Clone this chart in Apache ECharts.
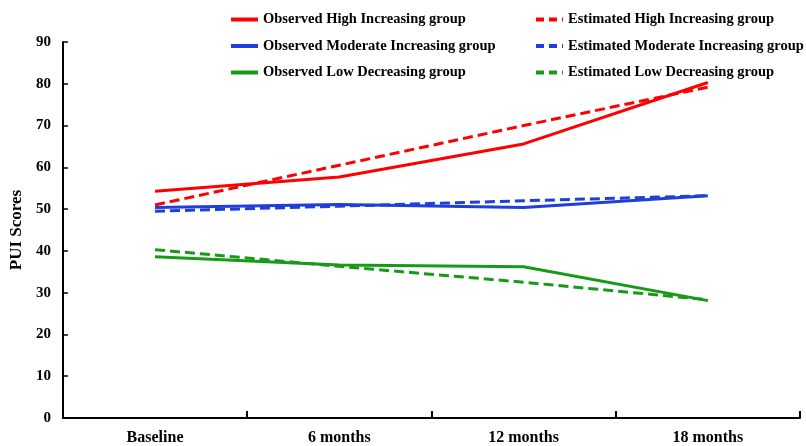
<!DOCTYPE html>
<html>
<head>
<meta charset="utf-8">
<script src="https://cdn.jsdelivr.net/npm/echarts@6/dist/echarts.min.js"></script>
<style>
  html, body { margin: 0; padding: 0; background: #fff; }
  #chart { width: 806px; height: 446px; }
</style>
</head>
<body>
<div id="chart"></div>
<script>
const categories = ['Baseline', '6 months', '12 months', '18 months']
const yTicks = [0, 10, 20, 30, 40, 50, 60, 70, 80, 90]

const obsHigh = [54.3, 57.7, 65.6, 80.3]
const estHigh = [51.0, 60.5, 70.0, 79.2]
const obsModerate = [50.4, 51.1, 50.4, 53.2]
const estModerate = [49.5, 50.7, 52.0, 53.2]
const obsLow = [38.6, 36.6, 36.2, 28.1]
const estLow = [40.3, 36.3, 32.5, 28.3]

const RED = '#ff0000'
const BLUE = '#1e3fdc'
const GREEN = '#179a17'
const font = '"Liberation Serif", "Times New Roman", serif'

function lineSeries(name, data, color, dashed) {
  return {
    name: name,
    type: 'line',
    data: data,
    symbol: 'none',
    lineStyle: { color: color, width: 3, type: dashed ? [10, 5] : 'solid' },
    itemStyle: { color: color },
    animation: false
  }
}

function legendItem(name, dashed) {
  return {
    name: name,
    itemStyle: { opacity: 0 },
    lineStyle: { width: 4, type: dashed ? [8, 5] : 'solid' }
  }
}

const chart = echarts.init(document.getElementById('chart'))
const legendText = { fontFamily: font, fontWeight: 'bold', fontSize: 14.5, color: '#000', lineHeight: 14 }

chart.setOption({
  backgroundColor: '#fff',
  grid: { left: 62, right: 6, top: 42, bottom: 28, containLabel: false },
  legend: [
    {
      orient: 'vertical', left: 224, top: 7, itemWidth: 27, itemHeight: 14, itemGap: 11.5,
      textStyle: legendText,
      data: [
        legendItem('Observed High Increasing group', false),
        legendItem('Observed Moderate Increasing group', false),
        legendItem('Observed Low Decreasing group', false)
      ]
    },
    {
      orient: 'vertical', left: 529, top: 7, itemWidth: 27, itemHeight: 14, itemGap: 11.5,
      textStyle: legendText,
      data: [
        legendItem('Estimated High Increasing group', true),
        legendItem('Estimated Moderate Increasing group', true),
        legendItem('Estimated Low Decreasing group', true)
      ]
    }
  ],
  xAxis: {
    type: 'category',
    data: categories,
    boundaryGap: true,
    axisLine: { show: true, lineStyle: { color: '#000', width: 2 } },
    axisTick: { show: true, interval: 0, inside: true, length: 7, lineStyle: { color: '#000', width: 2 } },
    axisLabel: { fontFamily: font, fontWeight: 'bold', fontSize: 16, color: '#000', margin: 12 }
  },
  yAxis: {
    type: 'value',
    min: yTicks[0],
    max: yTicks[yTicks.length - 1],
    interval: 10,
    name: 'PUI Scores',
    nameLocation: 'middle',
    nameGap: 27,
    nameTextStyle: { fontFamily: font, fontWeight: 'bold', fontSize: 17, color: '#000' },
    axisLine: { show: true, lineStyle: { color: '#000', width: 2 } },
    axisTick: { show: true, inside: true, length: 5, lineStyle: { color: '#000', width: 1.5 } },
    axisLabel: { fontFamily: font, fontWeight: 'bold', fontSize: 15, color: '#000', margin: 12 },
    splitLine: { show: false }
  },
  series: [
    lineSeries('Observed High Increasing group', obsHigh, RED, false),
    lineSeries('Observed Moderate Increasing group', obsModerate, BLUE, false),
    lineSeries('Observed Low Decreasing group', obsLow, GREEN, false),
    lineSeries('Estimated High Increasing group', estHigh, RED, true),
    lineSeries('Estimated Moderate Increasing group', estModerate, BLUE, true),
    lineSeries('Estimated Low Decreasing group', estLow, GREEN, true)
  ]
})
</script>
</body>
</html>
